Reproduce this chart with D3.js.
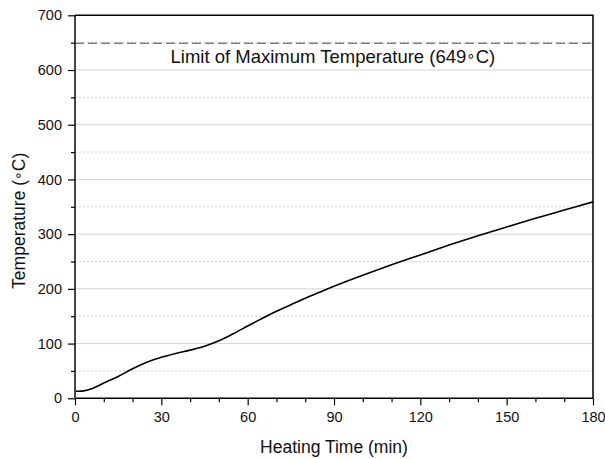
<!DOCTYPE html>
<html><head><meta charset="utf-8">
<script src="https://cdn.jsdelivr.net/npm/d3@7"></script>
<style>body{margin:0;background:#fff}svg{display:block}text{font-family:"Liberation Sans",Arial,sans-serif;fill:#111}</style>
</head><body>
<script>
const timeMin = [0,3,6,10,15,20,25,30,35,40,45,50,55,60,65,70,75,80,85,90,100,110,120,130,140,150,160,170,180];
const tempC   = [13,13.5,18,28,40,54,66,75,82,88,95,105,118,132,146,159,171,183,194,205,225,244,262,280,297,313,329,344,359];
const xMajorTicks = [0,30,60,90,120,150,180];
const xMinorTicks = [10,20,40,50,70,80,100,110,130,140,160,170];
const yMajorTicks = [0,100,200,300,400,500,600,700];
const yMinorTicks = [50,150,250,350,450,550,650];
const limitTemp = 649;
const limitLabelA = "Limit of Maximum Temperature (649", limitLabelB = "C)";
const xTitle = "Heating Time (min)";
const yTitleA = "Temperature (", yTitleB = "C)";
const degree = "\u2218";

const W=605,H=459, L=75, R=593, T=15.3, B=398.3;
const svg=d3.select("body").append("svg").attr("width",W).attr("height",H);
const x=d3.scaleLinear().domain([0,180]).range([L,R]);
const y=d3.scaleLinear().domain([0,700]).range([B,T]);

// grid
svg.append("g").selectAll("line").data(yMajorTicks.filter(d=>d>0&&d<700)).join("line")
  .attr("x1",L).attr("x2",R).attr("y1",d=>y(d)).attr("y2",d=>y(d))
  .attr("stroke","#d4d4d4").attr("stroke-width",1);
svg.append("g").selectAll("line").data(yMinorTicks).join("line")
  .attr("x1",L).attr("x2",R).attr("y1",d=>y(d)).attr("y2",d=>y(d))
  .attr("stroke","#cfcfcf").attr("stroke-width",1).attr("stroke-dasharray","2,2");

// limit line
svg.append("line").attr("x1",L).attr("x2",R).attr("y1",y(limitTemp)).attr("y2",y(limitTemp))
  .attr("stroke","#444").attr("stroke-width",1).attr("stroke-dasharray","9,4");
const lt=svg.append("text").attr("x",x(33.2)).attr("y",y(limitTemp)+20).attr("font-size","18.5px");
lt.append("tspan").text(limitLabelA);
lt.append("tspan").attr("font-family","DejaVu Sans").attr("font-size","15px").attr("dy",-2.5).text(degree);
lt.append("tspan").attr("dy",2.5).text(limitLabelB);

// curve
svg.append("path").datum(timeMin.map((t,i)=>[t,tempC[i]]))
  .attr("fill","none").attr("stroke","#000").attr("stroke-width",1.6)
  .attr("d",d3.line().x(d=>x(d[0])).y(d=>y(d[1])).curve(d3.curveCatmullRom.alpha(0.5)));

// axes
const xAxis=svg.append("g").attr("transform",`translate(0,${B})`)
  .call(d3.axisBottom(x).tickValues(xMajorTicks).tickSize(7).tickPadding(6).tickFormat(d3.format("d")));
svg.append("g").attr("transform",`translate(0,${B})`)
  .call(d3.axisBottom(x).tickValues(xMinorTicks).tickSize(4).tickFormat(""))
  .call(g=>g.select(".domain").remove());
const yAxis=svg.append("g").attr("transform",`translate(${L},0)`)
  .call(d3.axisLeft(y).tickValues(yMajorTicks).tickSize(7).tickPadding(6).tickFormat(d3.format("d")));
svg.append("g").attr("transform",`translate(${L},0)`)
  .call(d3.axisLeft(y).tickValues(yMinorTicks).tickSize(4).tickFormat(""))
  .call(g=>g.select(".domain").remove());
svg.selectAll(".tick text").attr("font-size","14.5px").attr("font-family","Liberation Sans, Arial, sans-serif").attr("fill","#111");
svg.selectAll(".tick line").attr("stroke","#000").attr("stroke-width",1.2);
xAxis.select(".domain").attr("stroke","#000").attr("stroke-width",1.5).attr("d",`M${L},0H${R}`);
yAxis.select(".domain").attr("stroke","#444").attr("stroke-width",2).attr("d",`M0,${B}V${T}`);

// top & right border
svg.append("path").attr("d",`M${L},${T}H${R}V${B}`).attr("fill","none").attr("stroke","#000").attr("stroke-width",1.5);

// titles
svg.append("text").attr("x",(L+R)/2).attr("y",453).attr("text-anchor","middle").attr("font-size","17.5px").text(xTitle);
const yt=svg.append("text").attr("transform",`translate(25,${(T+B)/2+14}) rotate(-90)`).attr("text-anchor","middle").attr("font-size","17.5px");
yt.append("tspan").text(yTitleA);
yt.append("tspan").attr("font-family","DejaVu Sans").attr("font-size","14px").attr("dy",-2.5).text(degree);
yt.append("tspan").attr("dy",2.5).text(yTitleB);
</script>
</body></html>
